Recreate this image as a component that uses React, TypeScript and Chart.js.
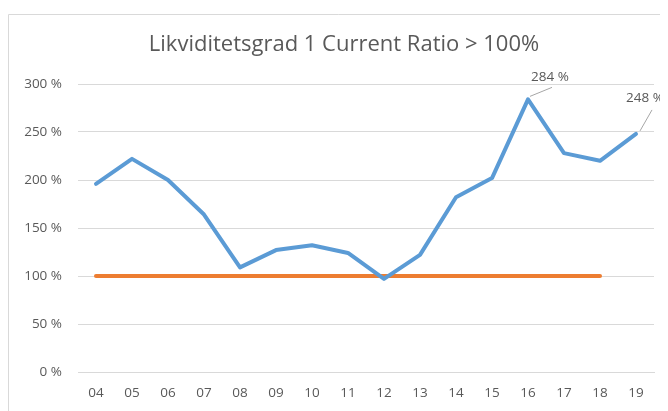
import React, { useEffect, useRef } from "react";
import { Chart, registerables } from "chart.js";

Chart.register(...registerables);

const categories = ["04", "05", "06", "07", "08", "09", "10", "11", "12", "13", "14", "15", "16", "17", "18", "19"];
const currentRatio = [196, 222, 200, 164, 109, 127, 132, 124, 97, 122, 182, 202, 284, 228, 220, 248];
const threshold = [100, 100, 100, 100, 100, 100, 100, 100, 100, 100, 100, 100, 100, 100, 100, null];
const yTicks = [0, 50, 100, 150, 200, 250, 300];
const titleText = "Likviditetsgrad 1 Current Ratio > 100%";
const labelledIdx = [12, 15];

const FONT = "'Open Sans', 'Noto Sans', sans-serif";
const TEXT = "#595959";
const GRID = "#d9d9d9";

const decorPlugin = {
  id: "decor",
  beforeDraw(chart: any) {
    const ctx = chart.ctx;
    ctx.save();
    ctx.strokeStyle = GRID;
    ctx.lineWidth = 1;
    ctx.beginPath();
    ctx.moveTo(0.5, chart.height);
    ctx.lineTo(0.5, 6.5);
    ctx.lineTo(chart.width, 6.5);
    ctx.stroke();
    ctx.fillStyle = TEXT;
    ctx.font = `22px ${FONT}`;
    ctx.textAlign = "center";
    ctx.textBaseline = "middle";
    ctx.fillText(titleText, 336, 37);
    ctx.restore();
  },
  afterDatasetsDraw(chart: any) {
    const ctx = chart.ctx;
    const x = chart.scales.x;
    const y = chart.scales.y;
    ctx.save();
    ctx.font = `13.5px ${FONT}`;
    ctx.fillStyle = TEXT;
    ctx.strokeStyle = "#a6a6a6";
    ctx.lineWidth = 1;
    const offs = [
      { lx0: 2, ly0: -3, lx1: 24, ly1: -12, tx: 3, ty: -22 },
      { lx0: 4, ly0: -3, lx1: 16, ly1: -24, tx: -10, ty: -36 },
    ];
    labelledIdx.forEach((i, k) => {
      const px = x.getPixelForValue(i);
      const py = y.getPixelForValue(currentRatio[i]);
      const o = offs[k];
      ctx.beginPath();
      ctx.moveTo(px + o.lx0, py + o.ly0);
      ctx.lineTo(px + o.lx1, py + o.ly1);
      ctx.stroke();
      ctx.textAlign = "left";
      ctx.textBaseline = "middle";
      ctx.fillText(currentRatio[i] + " %", px + o.tx, py + o.ty);
    });
    ctx.restore();
  },
};

export default function App() {
  const ref = useRef<HTMLCanvasElement>(null);
  useEffect(() => {
    if (!ref.current) return;
    const chart = new Chart(ref.current, {
      type: "line",
      data: {
        labels: categories,
        datasets: [
          {
            label: "Current Ratio",
            data: currentRatio,
            borderColor: "#5b9bd5",
            borderWidth: 4,
            pointRadius: 0,
            borderCapStyle: "round",
            borderJoinStyle: "round",
            tension: 0,
          },
          {
            label: "100%",
            data: threshold,
            borderColor: "#ed7d31",
            borderWidth: 4,
            pointRadius: 0,
            borderCapStyle: "round",
            borderJoinStyle: "round",
            spanGaps: false,
          },
        ],
      },
      options: {
        responsive: false,
        animation: false,
        layout: { padding: { left: 0, right: 14, top: 76, bottom: 0 } },
        plugins: { legend: { display: false }, title: { display: false }, tooltip: { enabled: false } },
        scales: {
          x: {
            offset: true,
            grid: { display: false, drawTicks: false },
            border: { display: true, color: GRID, width: 1 },
            ticks: { color: TEXT, font: { family: FONT, size: 13.5 }, padding: 13, maxRotation: 0, autoSkip: false },
            afterFit(s: any) { s.height = 39; },
          },
          y: {
            min: 0,
            max: 300,
            afterBuildTicks(s: any) { s.ticks = yTicks.map((v) => ({ value: v })); },
            grid: { color: GRID, drawTicks: false, lineWidth: 1 },
            border: { display: false },
            ticks: { color: TEXT, font: { family: FONT, size: 13.5 }, padding: 16, callback: (v: any) => v + " %" },
            afterFit(s: any) { s.width = 70; },
          },
        },
      },
      plugins: [decorPlugin],
    });
    return () => chart.destroy();
  }, []);
  return <canvas ref={ref} width={660} height={403} style={{ display: "block" }} />;
}
